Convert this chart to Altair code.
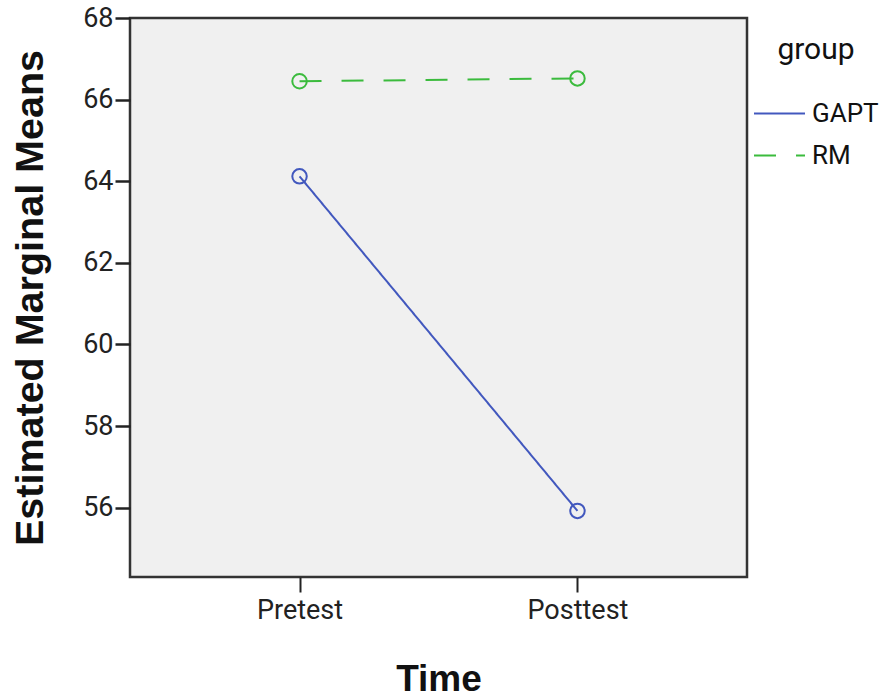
import altair as alt
import pandas as pd

# Estimated marginal means by time point and group
times = ["Pretest", "Posttest"]
groups = ["GAPT", "RM"]
gapt_means = [64.12, 55.92]
rm_means = [66.45, 66.52]

rows = []
for t, v in zip(times, gapt_means):
    rows.append({"Time": t, "group": "GAPT", "mean": v})
for t, v in zip(times, rm_means):
    rows.append({"Time": t, "group": "RM", "mean": v})
df = pd.DataFrame(rows)

colors = ["#4258BE", "#3BBB3D"]
dashes = [[1, 0], [22, 20]]
label_font = "Roboto"
title_font = "Liberation Sans"

x_enc = alt.X(
    "Time:N",
    sort=times,
    scale=alt.Scale(type="point", padding=0.61),
    axis=alt.Axis(
        title="Time", labelAngle=0, labelFont=label_font, labelFontSize=27,
        labelColor="#222", titleFont=title_font, titleFontSize=37,
        titleFontWeight="bold", titleColor="#111", titlePadding=38,
        labelPadding=5, tickSize=15, tickWidth=2, tickColor="#222",
        domain=False, grid=False,
    ),
)
y_enc = alt.Y(
    "mean:Q",
    scale=alt.Scale(domain=[54.3, 68], nice=False, zero=False),
    axis=alt.Axis(
        title="Estimated Marginal Means", values=[56, 58, 60, 62, 64, 66, 68],
        labelFont=label_font, labelFontSize=27, labelColor="#222",
        titleFont=title_font, titleFontSize=39.5, titleFontWeight="bold",
        titleColor="#111", titlePadding=32, labelPadding=2, tickSize=15,
        tickWidth=2.5, tickColor="#222", domain=False, grid=False,
    ),
)

lines = alt.Chart(df).mark_line(strokeWidth=2).encode(
    x=x_enc,
    y=y_enc,
    color=alt.Color(
        "group:N",
        scale=alt.Scale(domain=groups, range=colors),
        legend=alt.Legend(
            title="group", orient="none", legendX=623, legendY=17,
            titleFont=label_font, titleFontSize=30, titleFontWeight="normal",
            titleColor="#111", titleAnchor="middle", titlePadding=22,
            labelFont=label_font, labelFontSize=26, labelColor="#111",
            labelOffset=6, symbolType="stroke", symbolSize=2600,
            symbolStrokeWidth=2, rowPadding=2,
        ),
    ),
    strokeDash=alt.StrokeDash(
        "group:N",
        scale=alt.Scale(domain=groups, range=dashes),
        legend=None,
    ),
)

points = alt.Chart(df).mark_point(
    shape="circle", size=210, strokeWidth=2, filled=False, opacity=1
).encode(
    x=x_enc,
    y=y_enc,
    stroke=alt.Stroke(
        "group:N", scale=alt.Scale(domain=groups, range=colors), legend=None
    ),
)

chart = (
    alt.layer(lines, points)
    .properties(width=617, height=559)
    .configure(background="white", padding={"left": 10, "top": 4, "right": 5, "bottom": 2})
    .configure_view(fill="#F0F0F0", stroke="#333", strokeWidth=2.5)
)

chart.save("out.html", embed_options={"renderer": "svg", "actions": False})
